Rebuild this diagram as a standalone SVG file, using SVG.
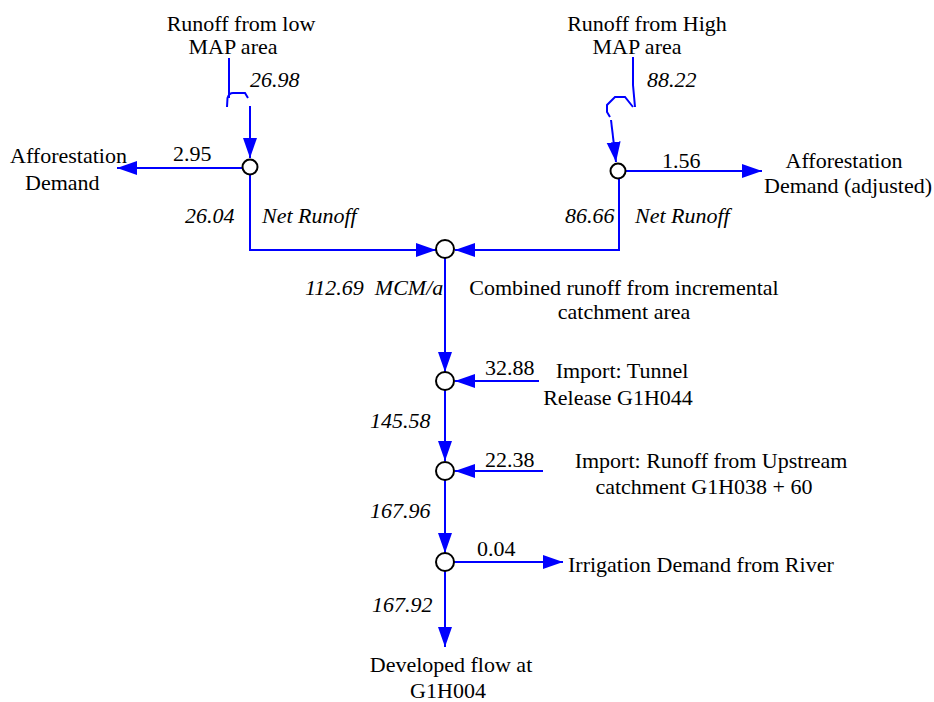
<svg xmlns="http://www.w3.org/2000/svg" width="934" height="702" viewBox="0 0 934 702">
<defs>
<marker id="ah" markerUnits="userSpaceOnUse" markerWidth="22" markerHeight="16" refX="20" refY="7" orient="auto">
<path d="M0,0 L20,7 L0,14 z" fill="#0000ff"/>
</marker>
<style>
.c{fill:none;stroke:#0000ff;stroke-width:2}
.a{fill:none;stroke:#0000ff;stroke-width:2;marker-end:url(#ah)}
.n{fill:#fff;stroke:#000;stroke-width:2}
text{font-family:"Liberation Serif","Times New Roman",serif;font-size:22px;fill:#000}
.i{font-style:italic}
.m{text-anchor:middle}
</style>
</defs>
<rect width="934" height="702" fill="#fff"/>
<g id="connectors">
<path class="c" d="M229,58 V98"/>
<path class="c" d="M227,107 L227.5,98 Q229,93 233,93 L245,93 L248,98"/>
<path class="a" d="M250,106 V158"/>
<path class="a" d="M242,168 H117"/>
<path class="a" d="M250,175 V250 H436"/>
<path class="a" d="M619,179 V250 H455"/>
<path class="c" d="M633,57 V85 L635,107"/>
<path class="c" d="M633,107 L625,97 L615,97 L607,105 L607,112 L610,117"/>
<path class="a" d="M611,120 L616,162"/>
<path class="a" d="M626,171 H762"/>
<path class="a" d="M445,258 V372"/>
<path class="a" d="M539,381 H455"/>
<path class="a" d="M445,390 V461"/>
<path class="a" d="M543,471 H455"/>
<path class="a" d="M445,480 V553"/>
<path class="a" d="M454,562 H563"/>
<path class="a" d="M445,571 V647"/>
</g>
<g id="n-low"><circle class="n" cx="250" cy="167" r="7.5"/></g>
<g id="n-high"><circle class="n" cx="618" cy="171" r="7.5"/></g>
<g id="n-combined"><circle class="n" cx="445" cy="249" r="9"/></g>
<g id="n-tunnel"><circle class="n" cx="445" cy="381" r="9"/></g>
<g id="n-upstream"><circle class="n" cx="445" cy="471" r="9"/></g>
<g id="n-irrigation"><circle class="n" cx="445" cy="562" r="9"/></g>
<g id="labels">
<text class="m" x="241" y="31">Runoff from low</text>
<text class="m" x="233" y="54">MAP area</text>
<text class="i" x="250" y="87">26.98</text>
<text class="m" x="647" y="31">Runoff from High</text>
<text class="m" x="637" y="54">MAP area</text>
<text class="i" x="647" y="87">88.22</text>
<text x="10" y="163">Afforestation</text>
<text x="25" y="190">Demand</text>
<text x="173" y="161">2.95</text>
<text class="i" x="185" y="223">26.04</text>
<text class="i" x="262" y="223">Net Runoff</text>
<text x="662" y="168">1.56</text>
<text class="m" x="844" y="168">Afforestation</text>
<text class="m" x="848" y="193">Demand (adjusted)</text>
<text class="i" x="565" y="223">86.66</text>
<text class="i" x="635" y="223">Net Runoff</text>
<text class="i" x="305" y="295">112.69&#160; MCM/a</text>
<text class="m" x="624" y="295">Combined runoff from incremental</text>
<text class="m" x="624" y="319">catchment area</text>
<text x="485" y="375">32.88</text>
<text class="m" x="622" y="378">Import: Tunnel</text>
<text class="m" x="618" y="405">Release G1H044</text>
<text class="i" x="370" y="428">145.58</text>
<text x="485" y="467">22.38</text>
<text class="m" x="711" y="468">Import: Runoff from Upstream</text>
<text class="m" x="704" y="494">catchment G1H038 + 60</text>
<text class="i" x="370" y="518">167.96</text>
<text x="477" y="556">0.04</text>
<text x="568" y="572">Irrigation Demand from River</text>
<text class="i" x="372" y="612">167.92</text>
<text class="m" x="451" y="672">Developed flow at</text>
<text class="m" x="448" y="698">G1H004</text>
</g>
</svg>
